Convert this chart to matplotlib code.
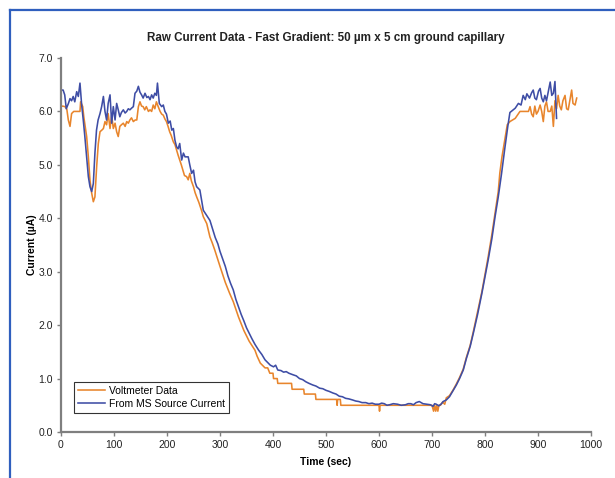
import matplotlib
matplotlib.use("Agg")
import matplotlib.pyplot as plt
from matplotlib.lines import Line2D

plt.rcParams['font.family'] = ['Liberation Sans', 'DejaVu Sans']

# ---- data ----
blue_t = [0, 4, 7, 10, 14, 17, 20, 23, 26, 29.6, 32.7, 35.8, 39, 42, 45, 48.4, 51.6, 54.7, 57.9, 61,
          64, 67, 70, 73.6, 76.7, 80, 83, 86, 89, 92.5, 95.6, 98.7, 102, 105, 108, 111, 114, 117.6, 121, 124,
          127, 130, 133, 136.5, 139.6, 143, 146, 149, 152, 155, 158.5, 162, 165, 168, 171, 174, 177, 180, 182, 185.5,
          190, 193, 196, 199, 202.5, 206, 209, 212, 215, 218, 221, 224, 227.7, 231, 234, 240, 243, 246.5, 250, 253,
          256, 262, 265, 268.5, 275, 281, 286, 291, 296, 300, 305, 310, 315, 320, 325, 330, 335, 340,
          345, 350, 355, 360, 366, 373, 379, 385, 390, 395, 401, 405,
          409, 415, 420, 425, 430, 438, 444, 450, 456, 462, 468, 475, 481, 488, 494, 500, 506, 513, 519, 525,
          531, 537, 543, 550, 556, 562, 568, 575, 581, 587, 593, 600, 605, 610, 615, 620, 627, 635,
          642, 650, 655, 660, 665, 670, 676, 683, 690, 697, 702, 705, 708, 713, 718, 721, 727, 733, 740, 746, 752, 759, 765, 772,
          778, 786, 794, 800, 806, 813, 819, 825, 831, 837, 843, 847, 852, 857, 863, 868, 872, 876, 879, 884,
          888, 891, 894, 897, 901, 904, 907, 910, 913, 916, 920, 923, 926, 929, 932, 935]
blue_y = [6.40, 6.40, 6.31, 6.05, 6.15, 6.24, 6.20, 6.28, 6.18, 6.37, 6.28, 6.53, 6.12, 5.84, 5.53, 5.15, 4.78, 4.59, 4.50, 4.65,
          5.22, 5.65, 5.84, 5.96, 6.09, 6.28, 6.00, 5.84, 6.15, 6.31, 5.78, 6.09, 5.84, 6.15, 6.03, 5.90, 5.98, 6.03, 5.97, 6.00,
          6.05, 6.03, 6.06, 6.09, 6.34, 6.38, 6.47, 6.36, 6.31, 6.25, 6.34, 6.26, 6.28, 6.22, 6.31, 6.25, 6.34, 6.30, 6.53, 6.15,
          6.09, 6.12, 6.00, 5.95, 5.78, 5.82, 5.65, 5.68, 5.46, 5.34, 5.30, 5.40, 5.09, 5.22, 5.15, 5.15, 5.00, 4.84, 4.90, 4.68,
          4.59, 4.53, 4.35, 4.15, 4.05, 3.96, 3.80, 3.64, 3.52, 3.38, 3.24, 3.10, 2.92, 2.78, 2.66, 2.48, 2.34, 2.20,
          2.08, 1.95, 1.85, 1.75, 1.64, 1.53, 1.45, 1.35, 1.30, 1.25, 1.22, 1.25,
          1.16, 1.15, 1.12, 1.13, 1.10, 1.07, 1.05, 1.00, 0.98, 0.94, 0.91, 0.88, 0.86, 0.82, 0.81, 0.78, 0.76, 0.73, 0.71, 0.67,
          0.66, 0.63, 0.62, 0.60, 0.58, 0.57, 0.55, 0.55, 0.53, 0.54, 0.52, 0.52, 0.54, 0.53, 0.50, 0.51, 0.53, 0.52,
          0.50, 0.51, 0.53, 0.53, 0.51, 0.55, 0.57, 0.53, 0.52, 0.51, 0.48, 0.53, 0.52, 0.49, 0.53, 0.57, 0.60, 0.66, 0.78, 0.88, 1.00, 1.16, 1.38, 1.60,
          1.85, 2.20, 2.59, 2.90, 3.22, 3.62, 4.03, 4.40, 4.82, 5.28, 5.72, 5.98, 6.02, 6.06, 6.15, 6.12, 6.30, 6.22, 6.33, 6.25,
          6.35, 6.40, 6.25, 6.22, 6.38, 6.43, 6.25, 6.18, 6.30, 6.20, 6.40, 6.55, 6.30, 6.34, 6.56, 5.87]

orange_t = [0, 3, 7.5, 11, 13.8, 17, 20, 24, 29.6, 35.8, 37, 41, 43, 48.4, 51.6, 54.7, 57.9, 61, 64, 67.3,
            70.4, 73.6, 77, 80, 83, 86, 89, 92.5, 95.6, 98.7, 102, 105, 108, 111, 114, 117.6, 121, 124, 127, 130,
            133, 136.5, 140, 143, 146, 149, 152, 155, 158, 161, 165, 168, 171, 174, 177, 180, 183, 187, 190, 193,
            196, 199, 202, 205, 208, 212, 215, 218, 221, 224, 227, 230, 233, 237, 240, 243, 246, 250, 253, 256,
            260, 265, 268.5, 275, 281, 285, 290, 300, 310, 318, 325, 335, 345, 355, 366, 370, 376, 385, 390, 394,
            400, 401, 408, 409, 435, 436, 458, 459, 480, 481, 520, 521, 522, 527, 528, 530, 600, 601, 602, 700,
            703, 705, 707, 709, 711, 713, 716, 720, 724, 727, 733, 740, 746, 752, 759, 765, 772, 778, 786, 794,
            800, 806, 813, 819, 825, 828, 832, 837, 842, 847, 857, 866, 882, 885, 888, 891, 894, 897, 900, 904,
            907, 910, 913, 916, 919, 923, 926, 929, 932, 935, 938, 941, 944, 947, 951, 954, 957, 960, 963.5, 966,
            970, 973]
orange_y = [6.09, 6.10, 6.09, 6.04, 5.84, 5.72, 5.96, 6.00, 6.00, 6.00, 6.18, 6.09, 5.90, 5.53, 5.15, 4.71, 4.47, 4.31, 4.40, 4.97,
            5.40, 5.62, 5.65, 5.68, 5.81, 5.75, 5.96, 5.68, 5.93, 5.68, 5.78, 5.62, 5.53, 5.72, 5.75, 5.78, 5.72, 5.81, 5.78, 5.84,
            5.88, 5.81, 5.84, 5.84, 6.09, 6.18, 6.10, 6.09, 6.03, 6.09, 6.00, 6.03, 6.00, 6.12, 6.05, 6.18, 6.10, 6.00, 5.95, 5.93,
            5.86, 5.81, 5.72, 5.62, 5.55, 5.43, 5.38, 5.28, 5.18, 5.09, 5.00, 4.90, 4.80, 4.78, 4.72, 4.84, 4.70, 4.59, 4.48, 4.40,
            4.30, 4.15, 4.03, 3.90, 3.65, 3.55, 3.41, 3.10, 2.80, 2.60, 2.44, 2.15, 1.90, 1.70, 1.53, 1.42, 1.29, 1.20, 1.20, 1.10,
            1.10, 1.00, 1.00, 0.91, 0.91, 0.80, 0.80, 0.71, 0.71, 0.61, 0.61, 0.50, 0.61, 0.61, 0.50, 0.50, 0.50, 0.39, 0.50, 0.50,
            0.39, 0.50, 0.39, 0.50, 0.39, 0.50, 0.50, 0.56, 0.52, 0.64, 0.68, 0.79, 0.90, 1.02, 1.18, 1.40, 1.62, 1.88, 2.25, 2.62,
            2.95, 3.28, 3.70, 4.10, 4.50, 4.85, 5.15, 5.45, 5.75, 5.81, 5.87, 6.00, 6.00, 6.09, 5.95, 5.90, 6.10, 5.95, 6.00, 6.12,
            6.00, 5.81, 6.10, 6.18, 6.00, 6.00, 6.10, 5.72, 6.20, 6.05, 6.30, 6.10, 6.03, 6.20, 6.30, 6.05, 6.03, 6.20, 6.40, 6.15,
            6.12, 6.25]

x_ticks = [0, 100, 200, 300, 400, 500, 600, 700, 800, 900, 1000]
y_ticks = [0.0, 1.0, 2.0, 3.0, 4.0, 5.0, 6.0, 7.0]
title = "Raw Current Data - Fast Gradient: 50 µm x 5 cm ground capillary"

ORANGE = '#E8852C'
BLUE = '#3E4DA5'
GRAY = '#7F7F7F'

fig = plt.figure(figsize=(6.15, 4.78), dpi=100)
ax = fig.add_axes([61 / 615, 46 / 478, 530 / 615, 374 / 478])

ax.plot(orange_t, orange_y, color=ORANGE, lw=1.15, label='Voltmeter Data')
ax.plot(blue_t, blue_y, color=BLUE, lw=1.15, label='From MS Source Current')

ax.set_xlim(0, 1000)
ax.set_ylim(0, 7)
ax.set_xticks(x_ticks)
ax.set_xticklabels([str(v) for v in x_ticks])
ax.set_yticks(y_ticks)
ax.set_yticklabels([f"{v:.1f}" for v in y_ticks])

for s in ['top', 'right']:
    ax.spines[s].set_visible(False)
for s in ['left', 'bottom']:
    ax.spines[s].set_color(GRAY)
    ax.spines[s].set_linewidth(1.6)
ax.tick_params(axis='both', direction='out', length=3, width=1, color=GRAY,
               labelsize=7.5, labelcolor='#222222', pad=3)

ax.set_xlabel('Time (sec)', fontsize=7.5, fontweight='bold', labelpad=5)
ax.set_ylabel('Current (µA)', fontsize=7.5, fontweight='bold', labelpad=1)
ax.set_title(title, fontsize=8.4, fontweight='bold', color='#222222', pad=12)

leg = ax.legend(loc='lower left', bbox_to_anchor=(0.025, 0.052), fontsize=7.5,
                frameon=True, fancybox=False, edgecolor='black', borderpad=0.35,
                handlelength=2.6, handletextpad=0.4, labelspacing=0.3, borderaxespad=0)
leg.get_frame().set_linewidth(0.8)

# figure frame (blue border at left and top)
fx = 10 / 615
fy = 1 - 10 / 478
fig.add_artist(Line2D([fx, 1], [fy + 1.5 / 478, fy + 1.5 / 478], transform=fig.transFigure,
                      color='#C8C8C8', lw=0.8))
fig.add_artist(Line2D([fx, 1], [fy, fy], transform=fig.transFigure, color='#2F5FBE', lw=1.6))
fig.add_artist(Line2D([fx, fx], [0, fy], transform=fig.transFigure, color='#2F5FBE', lw=1.6))

fig.savefig('out.png', dpi=100)
